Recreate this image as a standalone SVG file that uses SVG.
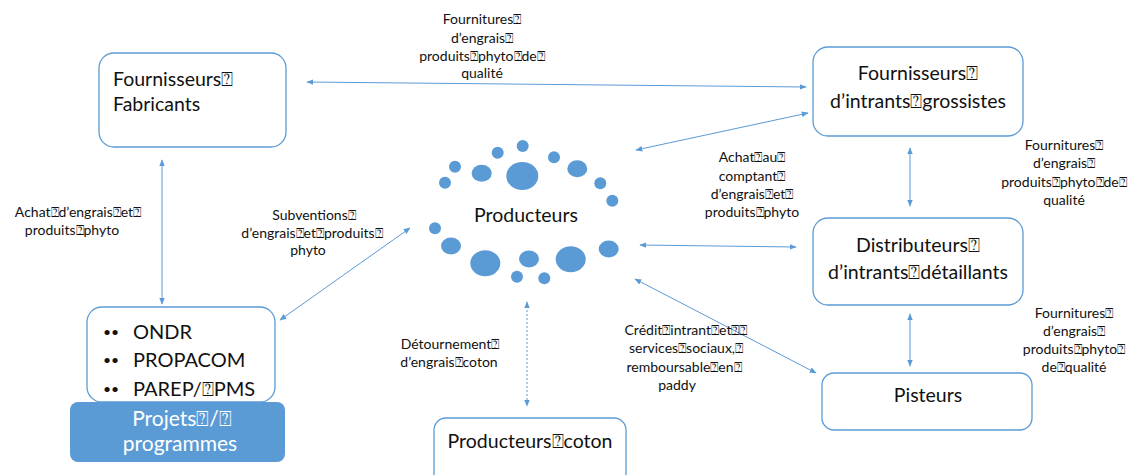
<svg xmlns="http://www.w3.org/2000/svg" width="1140" height="475" viewBox="0 0 1140 475">
<style>
.box{fill:#fff;stroke:#5B9BD5;stroke-width:1.3}
.t{font-family:Lato,"Liberation Sans",sans-serif;fill:#111}
.n{font-size:19.5px}
.l{font-size:14px;text-anchor:middle}
.c{text-anchor:middle}
.dot{fill:#5B9BD5}
.e{stroke:#5B9BD5;stroke-width:1;fill:none;marker-start:url(#a);marker-end:url(#a)}
</style>
<defs>
<marker id="a" viewBox="0 0 10 10" refX="9" refY="5" markerWidth="7" markerHeight="7" orient="auto-start-reverse" markerUnits="userSpaceOnUse">
<path d="M0,1 L10,5 L0,9 z" fill="#5B9BD5"/>
</marker>
</defs>
<rect width="1140" height="475" fill="#fff"/>

<g id="connectors">
<line class="e" x1="307" y1="82" x2="806" y2="87"/>
<line class="e" x1="162" y1="160" x2="162" y2="304"/>
<line class="e" x1="636" y1="150" x2="808" y2="113"/>
<line class="e" x1="910" y1="148" x2="910" y2="206"/>
<line class="e" x1="640" y1="245" x2="796" y2="247"/>
<line class="e" x1="910" y1="314" x2="910" y2="366"/>
<line class="e" x1="635" y1="279" x2="816" y2="373"/>
<line class="e" x1="410" y1="228" x2="280" y2="320"/>
<line class="e" x1="527" y1="302" x2="527" y2="406" stroke-dasharray="2,2"/>
</g>

<g id="labels" class="t">
<text class="l" x="482"><tspan x="482" y="24">Fournitures⍰</tspan><tspan x="482" y="43">d’engrais⍰</tspan><tspan x="482" y="61">produits⍰phyto⍰de⍰</tspan><tspan x="482" y="78">qualité</tspan></text>
<text class="l"><tspan x="752" y="162">Achat⍰au⍰</tspan><tspan x="752" y="181">comptant⍰</tspan><tspan x="752" y="199">d’engrais⍰et⍰</tspan><tspan x="752" y="217">produits⍰phyto</tspan></text>
<text class="l"><tspan x="1064" y="150">Fournitures⍰</tspan><tspan x="1064" y="168">d’engrais⍰</tspan><tspan x="1064" y="187">produits⍰phyto⍰de⍰</tspan><tspan x="1064" y="205">qualité</tspan></text>
<text class="l"><tspan x="1074" y="318">Fournitures⍰</tspan><tspan x="1074" y="336">d’engrais⍰</tspan><tspan x="1074" y="354">produits⍰phyto⍰</tspan><tspan x="1074" y="372">de⍰qualité</tspan></text>
<text class="l"><tspan x="78" y="217">Achat⍰d’engrais⍰et⍰</tspan><tspan x="72" y="235">produits⍰phyto</tspan></text>
<text class="l"><tspan x="314" y="220">Subventions⍰</tspan><tspan x="312" y="238">d’engrais⍰et⍰produits⍰</tspan><tspan x="308" y="255">phyto</tspan></text>
<text class="l"><tspan x="450" y="349">Détournement⍰</tspan><tspan x="449" y="367">d’engrais⍰coton</tspan></text>
<text class="l"><tspan x="686" y="335">Crédit⍰intrant⍰et⍰⍰</tspan><tspan x="686" y="353">services⍰sociaux,⍰</tspan><tspan x="684" y="372">remboursable⍰en⍰</tspan><tspan x="677" y="390">paddy</tspan></text>
</g>

<g id="fabricants">
<rect class="box" x="99" y="53" width="187" height="94" rx="15"/>
<text class="t n"><tspan x="113" y="86">Fournisseurs⍰</tspan><tspan x="113" y="111">Fabricants</tspan></text>
</g>

<g id="grossistes">
<rect class="box" x="813" y="47" width="210" height="89" rx="15"/>
<text class="t n c"><tspan x="918" y="80">Fournisseurs⍰</tspan><tspan x="918" y="108">d’intrants⍰grossistes</tspan></text>
</g>

<g id="distributeurs">
<rect class="box" x="813" y="218" width="210" height="87" rx="15"/>
<text class="t n c"><tspan x="918" y="252">Distributeurs⍰</tspan><tspan x="918" y="279">d’intrants⍰détaillants</tspan></text>
</g>

<g id="pisteurs">
<rect class="box" x="822" y="373" width="210" height="57" rx="12"/>
<text class="t n c" x="928" y="402">Pisteurs</text>
</g>

<g id="producteurs-coton">
<rect class="box" x="434" y="418" width="192" height="70" rx="12"/>
<text class="t n c" x="530" y="448">Producteurs⍰coton</text>
</g>

<g id="projets">
<rect class="box" x="87" y="307" width="188" height="95" rx="15"/>
<text class="t" style="font-size:14px"><tspan x="103" y="337">••</tspan><tspan x="103" y="365">••</tspan><tspan x="103" y="394">••</tspan></text>
<text class="t" style="font-size:20px"><tspan x="133" y="339">ONDR</tspan><tspan x="133" y="367">PROPACOM</tspan><tspan x="133" y="396">PAREP/⍰PMS</tspan></text>
<rect x="70" y="402" width="215" height="60" rx="8" fill="#5B9BD5"/>
<text class="t c" style="font-size:21px;fill:#fff"><tspan x="182" y="426">Projets⍰/⍰</tspan><tspan x="180" y="451">programmes</tspan></text>
</g>

<g id="producteurs">
<circle class="dot" cx="522.7" cy="146" r="6"/>
<circle class="dot" cx="497.7" cy="152.7" r="6"/>
<circle class="dot" cx="554" cy="157.3" r="6"/>
<circle class="dot" cx="455" cy="166.7" r="6"/>
<ellipse class="dot" cx="481.7" cy="173.3" rx="10" ry="8.5"/>
<ellipse class="dot" cx="522.3" cy="176" rx="16" ry="14"/>
<ellipse class="dot" cx="577.3" cy="168.7" rx="10" ry="8.5"/>
<circle class="dot" cx="445" cy="182.7" r="6"/>
<circle class="dot" cx="600.3" cy="183.3" r="6"/>
<circle class="dot" cx="612.3" cy="200.7" r="6"/>
<circle class="dot" cx="435" cy="228.3" r="6"/>
<ellipse class="dot" cx="451" cy="246" rx="10" ry="8.5"/>
<ellipse class="dot" cx="485.3" cy="263.3" rx="15" ry="13"/>
<ellipse class="dot" cx="529" cy="259" rx="10" ry="8.5"/>
<ellipse class="dot" cx="570.7" cy="259.3" rx="15" ry="13"/>
<ellipse class="dot" cx="608.7" cy="249" rx="10" ry="8.5"/>
<circle class="dot" cx="517" cy="276.7" r="6"/>
<circle class="dot" cx="544.3" cy="278.3" r="6"/>
<text class="t n c" x="526" y="222">Producteurs</text>
</g>
</svg>
